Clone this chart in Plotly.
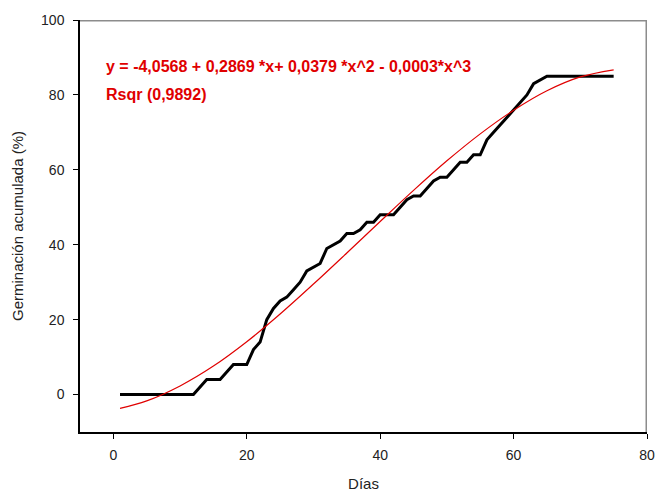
import plotly.graph_objects as go

# Observed cumulative germination (black line)
dias = list(range(1, 76))
germinacion = [0, 0, 0, 0, 0, 0, 0, 0, 0, 0, 0, 0,   # days 1-12
               2, 4, 4, 4, 6, 8, 8, 8,                # 13-20
               12, 14, 20, 23, 25, 26, 28, 30, 33, 34,  # 21-30
               35, 39, 40, 41, 43, 43, 44, 46, 46, 48,  # 31-40
               48, 48, 50, 52, 53, 53, 55, 57, 58, 58,  # 41-50
               60, 62, 62, 64, 64, 68, 70, 72, 74, 76,  # 51-60
               78, 80, 83, 84, 85, 85, 85, 85, 85, 85,  # 61-70
               85, 85, 85, 85, 85]                      # 71-75

# Fitted curve (red line)
ajuste_x = [1, 5, 10, 15, 20, 25, 30, 35, 40, 45, 50, 55, 60, 65, 70, 75]
ajuste_y = [-3.7, -1.7, 2.3, 7.6, 14.1, 21.5, 29.5, 37.8, 46.2, 54.5, 62.4,
            69.6, 75.9, 81.1, 84.8, 86.7]

x_ticks = [0, 20, 40, 60, 80]
y_ticks = [0, 20, 40, 60, 80, 100]
x_range = [-5, 80]
y_range = [-10, 100]

ecuacion = "y = -4,0568 + 0,2869 *x+ 0,0379 *x^2 - 0,0003*x^3"
rsqr = "Rsqr (0,9892)"

FONT = "Liberation Sans, Arial"

fig = go.Figure()
# gray frame (top and right edges of the plot area), built from the axis ranges
fig.add_trace(go.Scatter(x=[x_range[0], x_range[1], x_range[1]],
                         y=[y_range[1], y_range[1], y_range[0]],
                         mode="lines", line=dict(color="#8c8c8c", width=3),
                         cliponaxis=False, hoverinfo="skip", showlegend=False))
fig.add_trace(go.Scatter(x=dias, y=germinacion, mode="lines",
                         line=dict(color="black", width=3), showlegend=False))
fig.add_trace(go.Scatter(x=ajuste_x, y=ajuste_y, mode="lines",
                         line=dict(color="#e00000", width=1.2, shape="spline"),
                         showlegend=False))

fig.add_annotation(x=0.042, y=0.886, xref="paper", yref="paper", text=ecuacion,
                   showarrow=False, xanchor="left", yanchor="middle",
                   font=dict(family=FONT, size=16, color="#e00000", weight="bold"))
fig.add_annotation(x=0.042, y=0.818, xref="paper", yref="paper", text=rsqr,
                   showarrow=False, xanchor="left", yanchor="middle",
                   font=dict(family=FONT, size=16, color="#e00000", weight="bold"))

fig.update_layout(
    width=656, height=492,
    margin=dict(l=80, r=9, t=20, b=60),
    plot_bgcolor="white", paper_bgcolor="white",
    font=dict(family=FONT, size=14, color="#222222"),
    xaxis=dict(range=x_range, tickvals=x_ticks, showgrid=False, zeroline=False,
               showline=True, linecolor="black", linewidth=1.5,
               ticks="outside", ticklen=5, tickcolor="black", tickwidth=1,
               ticklabelstandoff=4, automargin=False,
               title=dict(text="Días", font=dict(size=15), standoff=20)),
    yaxis=dict(range=y_range, tickvals=y_ticks, showgrid=False, zeroline=False,
               showline=True, linecolor="black", linewidth=1.5,
               ticks="outside", ticklen=5, tickcolor="black", tickwidth=1,
               ticklabelstandoff=6, automargin=False,
               title=dict(text="Germinación acumulada (%)", font=dict(size=15), standoff=14)),
)

fig.write_html("out.html", config={"displayModeBar": False},
               post_script="document.body.style.margin='0';document.body.style.overflow='hidden';")
